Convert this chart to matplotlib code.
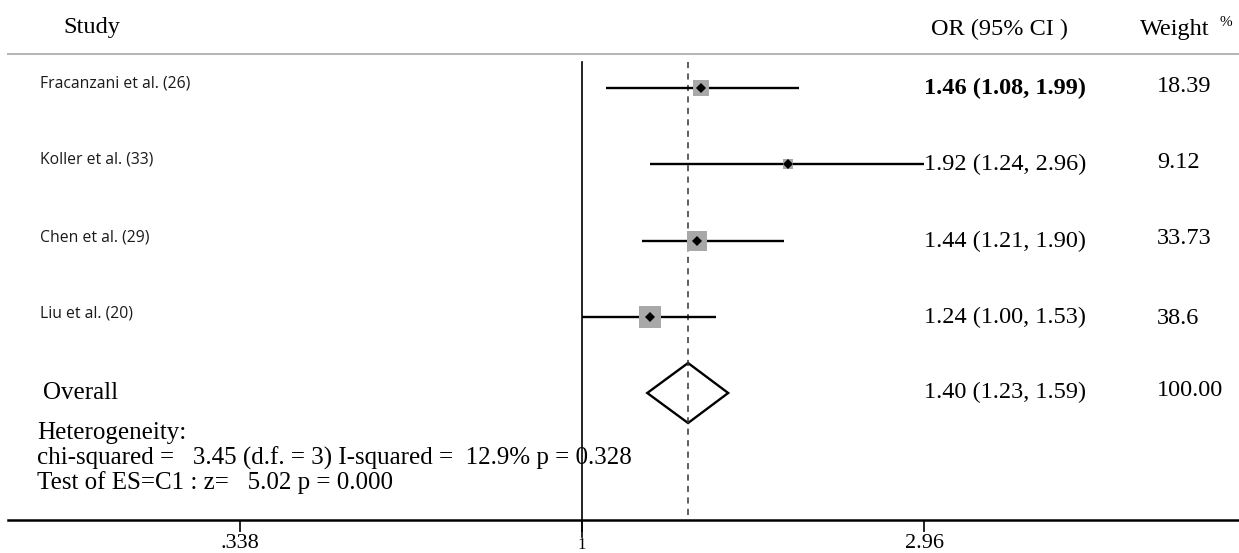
import numpy as np
import matplotlib
matplotlib.use("Agg")
import matplotlib.pyplot as plt
from matplotlib.patches import Polygon

studies = ["Fracanzani et al. (26)", "Koller et al. (33)", "Chen et al. (29)", "Liu et al. (20)"]
odds = [1.46, 1.92, 1.44, 1.24]
lower = [1.08, 1.24, 1.21, 1.00]
upper = [1.99, 2.96, 1.90, 1.53]
weights = ["18.39", "9.12", "33.73", "38.6"]

pooled = 1.40
pooled_lo = 1.23
pooled_hi = 1.59
pooled_weight = "100.00"

tick_values = [0.338, 1, 2.96]
tick_labels = [".338", "1", "2.96"]

het_lines = ["Heterogeneity:",
             "chi-squared =   3.45 (d.f. = 3) I-squared =  12.9% p = 0.328",
             "Test of ES=C1 : z=   5.02 p = 0.000"]

serif = "Liberation Serif"
sans = "Open Sans"

fig = plt.figure(figsize=(12.39, 5.53), dpi=100)
ax = fig.add_axes([0, 0, 1, 1])
ax.set_xscale("log")
# 315.2 px per natural-log unit, OR = 1 at x = 582 px
ax.set_xlim(np.exp(-582 / 315.2), np.exp(657 / 315.2))
ax.set_ylim(553, 0)
ax.axis("off")

trans = ax.get_yaxis_transform()  # x in axes fraction, y in data
def fx(px):
    return px / 1239.0

row_y = [88, 164, 241, 317]
overall_y = 393

# header
ax.text(fx(63), 27, "Study", transform=trans, family=serif, fontsize=17.5, va="center")
ax.text(fx(931), 29, "OR (95% CI )", transform=trans, family=serif, fontsize=17.5, va="center")
ax.text(fx(1140), 29, "Weight", transform=trans, family=serif, fontsize=17.5, va="center")
ax.text(fx(1220), 23, "%", transform=trans, family=serif, fontsize=11, va="center")
ax.plot([fx(8), 1], [54, 54], transform=trans, color="#b4b4b4", lw=1.4)

# reference lines
ax.plot([1, 1], [62, 537], color="black", lw=1.2)
ax.plot([pooled, pooled], [62, 520], color="#333333", lw=1.1, ls=(0, (4, 3.5)))

# studies
for i, name in enumerate(studies):
    y = row_y[i]
    ax.plot([lower[i], upper[i]], [y, y], color="black", lw=1.7, solid_capstyle="butt")
    side = 3.54 * np.sqrt(float(weights[i])) * 0.72
    ax.plot(odds[i], y, marker="s", markersize=side, color="#a8a8a8", mew=0)
    ax.plot(odds[i], y, marker="D", markersize=5.5, color="black", mew=0)
    ax.text(fx(40), y - 4, name, transform=trans, family=sans, fontsize=11.3,
            va="center", color="#1a1a1a")
    label = "%.2f (%.2f, %.2f)" % (odds[i], lower[i], upper[i])
    ax.text(fx(924), y, label, transform=trans, family=serif, fontsize=17.5, va="center",
            fontweight="bold" if i == 0 else "normal")
    ax.text(fx(1157), y - 2 + (3 if i == 3 else 0), weights[i], transform=trans,
            family=serif, fontsize=17.5, va="center")

# pooled estimate
diamond = Polygon([(pooled_lo, overall_y), (pooled, overall_y - 30),
                   (pooled_hi, overall_y), (pooled, overall_y + 30)],
                  closed=True, fill=False, edgecolor="black", lw=1.7)
ax.add_patch(diamond)
ax.text(fx(43), overall_y, "Overall", transform=trans, family=serif, fontsize=18, va="center")
ax.text(fx(924), overall_y - 1, "%.2f (%.2f, %.2f)" % (pooled, pooled_lo, pooled_hi),
        transform=trans, family=serif, fontsize=17.5, va="center")
ax.text(fx(1157), overall_y - 3, pooled_weight, transform=trans, family=serif,
        fontsize=17.5, va="center")

for j, line in enumerate(het_lines):
    ax.text(fx(37), 433 + 25 * j, line, transform=trans, family=serif, fontsize=18,
            va="center")

# x axis
ax.plot([fx(8), 1], [520, 520], transform=trans, color="black", lw=1.8)
ax.vlines(tick_values, 520, 532, color="black", lw=1.2)
for v, t in zip(tick_values, tick_labels):
    ax.text(v, 544 if t != "1" else 545, t, family=serif, fontsize=16 if t != "1" else 12,
            ha="center", va="center")

fig.savefig("out.png", dpi=100)
